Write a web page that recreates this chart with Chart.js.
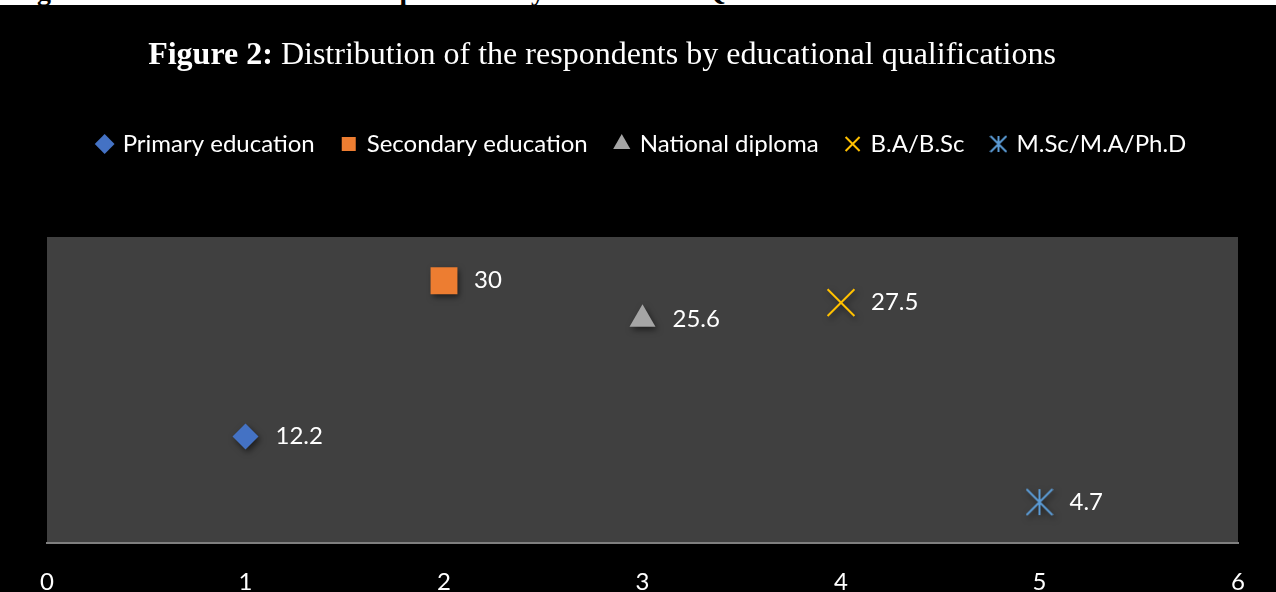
<!DOCTYPE html>
<html>
<head>
<meta charset="utf-8">
<script src="https://cdn.jsdelivr.net/npm/chart.js@4"></script>
<style>
  html, body { margin: 0; padding: 0; background: #000; overflow: hidden; }
  #strip { position: relative; height: 5px; background: #fff; overflow: hidden; }
  #strip span { position: absolute; left: 12px; top: -23px; font: bold 28px/28px "Liberation Serif"; color: #000; white-space: nowrap; }
  #wrap { width: 1276px; height: 617px; }
</style>
</head>
<body>
<div id="strip"><span>Figure 2: Distribution of the Respondents by Educational Qualifications</span></div>
<div id="wrap"><canvas id="chart"></canvas></div>
<script>
// Datos
const categorias = ["Primary education", "Secondary education", "National diploma", "B.A/B.Sc", "M.Sc/M.A/Ph.D"];
const posiciones = [1, 2, 3, 4, 5];
const valores = [12.2, 30, 25.6, 27.5, 4.7];
const colores = ["#4472C4", "#ED7D31", "#A5A5A5", "#FFC000", "#5B9BD5"];
const estilos = ["rectRot", "rect", "triangle", null, null];
const radios = [13, 19, 15, 19, 14];
const ticksX = [0, 1, 2, 3, 4, 5, 6];

// Asterisco (X + línea vertical) como imagen
function asterisco(size, color) {
  const c = document.createElement("canvas");
  c.width = size; c.height = size;
  const g = c.getContext("2d");
  const m = size / 2, r = size / 2 - 1;
  g.strokeStyle = color;
  g.lineWidth = 2;
  g.beginPath();
  g.moveTo(m, m - r); g.lineTo(m, m + r);
  g.moveTo(m - r, m - r); g.lineTo(m + r, m + r);
  g.moveTo(m + r, m - r); g.lineTo(m - r, m + r);
  g.stroke();
  return c;
}
const estrellaGrande = asterisco(28, colores[4]);
const estrellaChica = asterisco(18, colores[4]);

const datasets = categorias.map((cat, i) => {
  const ds = {
    label: cat,
    data: [{ x: posiciones[i], y: valores[i] }],
    backgroundColor: colores[i],
    borderColor: colores[i],
    borderWidth: 0,
    pointRadius: radios[i],
    pointHoverRadius: radios[i],
    pointStyle: estilos[i]
  };
  if (i === 3) { ds.pointStyle = "crossRot"; ds.borderWidth = 2; ds.backgroundColor = "transparent"; }
  if (i === 4) { ds.pointStyle = estrellaGrande; }
  return ds;
});

// Fondo gris del área de trazado + sombras + etiquetas + título
const extras = {
  id: "extras",
  beforeLayout(chart) {
    if (chart.legend && !chart.legend._parcheado) {
      const fitOriginal = chart.legend.fit;
      chart.legend.fit = function () {
        fitOriginal.call(this);
        this.height += 71;
      };
      chart.legend._parcheado = true;
    }
  },
  beforeDraw(chart) {
    const { ctx, chartArea: a } = chart;
    ctx.save();
    ctx.fillStyle = "#404040";
    ctx.fillRect(a.left, a.top, a.right - a.left, a.bottom - a.top);
    ctx.restore();
  },
  beforeDatasetsDraw(chart) {
    const ctx = chart.ctx;
    ctx.save();
    ctx.shadowColor = "rgba(0,0,0,0.55)";
    ctx.shadowBlur = 6;
    ctx.shadowOffsetX = 2;
    ctx.shadowOffsetY = 3;
  },
  afterDatasetsDraw(chart) {
    const ctx = chart.ctx;
    ctx.restore();
    ctx.save();
    ctx.fillStyle = "#ffffff";
    ctx.font = '24px "Lato"';
    ctx.textAlign = "left";
    ctx.textBaseline = "middle";
    chart.data.datasets.forEach((ds, i) => {
      const p = chart.getDatasetMeta(i).data[0];
      ctx.fillText(String(valores[i]), p.x + 30, p.y);
    });
    ctx.restore();
  },
  afterDraw(chart) {
    const ctx = chart.ctx;
    const negrita = "Figure 2:";
    const resto = " Distribution of the respondents by educational qualifications";
    ctx.save();
    ctx.fillStyle = "#ffffff";
    ctx.textBaseline = "middle";
    ctx.font = 'bold 32px "Liberation Serif"';
    const w1 = ctx.measureText(negrita).width;
    ctx.font = '32px "Liberation Serif"';
    const w2 = ctx.measureText(resto).width;
    const x0 = 602 - (w1 + w2) / 2;
    ctx.font = 'bold 32px "Liberation Serif"';
    ctx.fillText(negrita, x0, 51);
    ctx.font = '32px "Liberation Serif"';
    ctx.fillText(resto, x0 + w1, 51);
    ctx.restore();
  }
};

new Chart(document.getElementById("chart"), {
  type: "scatter",
  data: { datasets },
  options: {
    responsive: true,
    maintainAspectRatio: false,
    animation: false,
    layout: { padding: { top: 99, left: 47, right: 38, bottom: 0 } },
    plugins: {
      tooltip: { enabled: false },
      legend: {
        position: "top",
        labels: {
          color: "#ffffff",
          font: { family: "Lato", size: 24 },
          usePointStyle: true,
          boxHeight: 14,
          boxWidth: 12,
          padding: 28,
          generateLabels(chart) {
            const items = Chart.defaults.plugins.legend.labels.generateLabels(chart);
            items.forEach((it, i) => {
              if (i === 4) it.pointStyle = estrellaChica;
              if (i === 3) { it.lineWidth = 2; it.strokeStyle = colores[3]; }
            });
            return items;
          }
        }
      }
    },
    scales: {
      x: {
        type: "linear",
        min: 0,
        max: 6,
        afterBuildTicks(scale) { scale.ticks = ticksX.map(v => ({ value: v })); },
        grid: { display: false, drawTicks: false },
        border: { display: true, color: "#7f7f7f", width: 2 },
        ticks: { color: "#ffffff", font: { family: "Lato", size: 24 }, padding: 25 }
      },
      y: {
        display: false,
        min: 0,
        max: 35
      }
    }
  },
  plugins: [extras]
});
</script>
</body>
</html>
